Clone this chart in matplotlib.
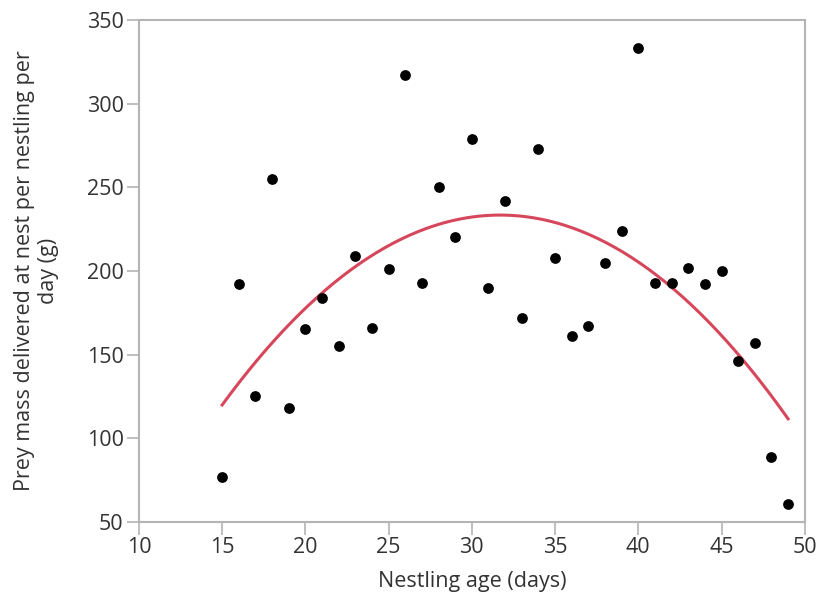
import matplotlib
matplotlib.use("Agg")
import matplotlib.pyplot as plt
import numpy as np

# nestling age (days) and prey mass delivered per nestling per day (g)
age = [15, 16, 17, 18, 19, 20, 21, 22, 23, 24, 25, 26, 27, 28, 29, 30, 31,
       32, 33, 34, 35, 36, 37, 38, 39, 40, 41, 42, 43, 44, 45, 46, 47, 48, 49]
prey_mass = [77, 192, 125, 255, 118, 165, 184, 155, 209, 166, 201, 317, 193,
             250, 220, 279, 190, 242, 172, 273, 208, 161, 167, 205, 224, 333,
             193, 193, 202, 192, 200, 146, 157, 89, 61]

x_ticks = [10, 15, 20, 25, 30, 35, 40, 45, 50]
y_ticks = [50, 100, 150, 200, 250, 300, 350]

plt.rcParams["font.family"] = ["Open Sans", "DejaVu Sans"]

fig = plt.figure(figsize=(8.22, 6), dpi=100)
ax = fig.add_axes([0.169, 0.13, 0.81, 0.837])

# quadratic fit curve
coef = np.polyfit(age, prey_mass, 2)
xs = np.linspace(min(age), max(age), 200)
ax.plot(xs, np.polyval(coef, xs), color="#d6475b", lw=2.2, zorder=2)

ax.scatter(age, prey_mass, s=60, color="black", zorder=3, linewidths=0)

ax.set_xlim(10, 50)
ax.set_ylim(50, 350)
ax.set_xticks(x_ticks)
ax.set_yticks(y_ticks)

for s in ax.spines.values():
    s.set_color("#b4b4b4")
    s.set_linewidth(1.5)
ax.tick_params(colors="#b4b4b4", labelcolor="#333333", length=9, width=1.2,
               labelsize=15.5, pad=2)

ax.set_xlabel("Nestling age (days)", fontsize=15.5, color="#333333", labelpad=9)
ax.set_ylabel("Prey mass delivered at nest per nestling per\nday (g)",
              fontsize=15.5, color="#333333", labelpad=20, linespacing=1.15)

fig.savefig("out.png", dpi=100)
